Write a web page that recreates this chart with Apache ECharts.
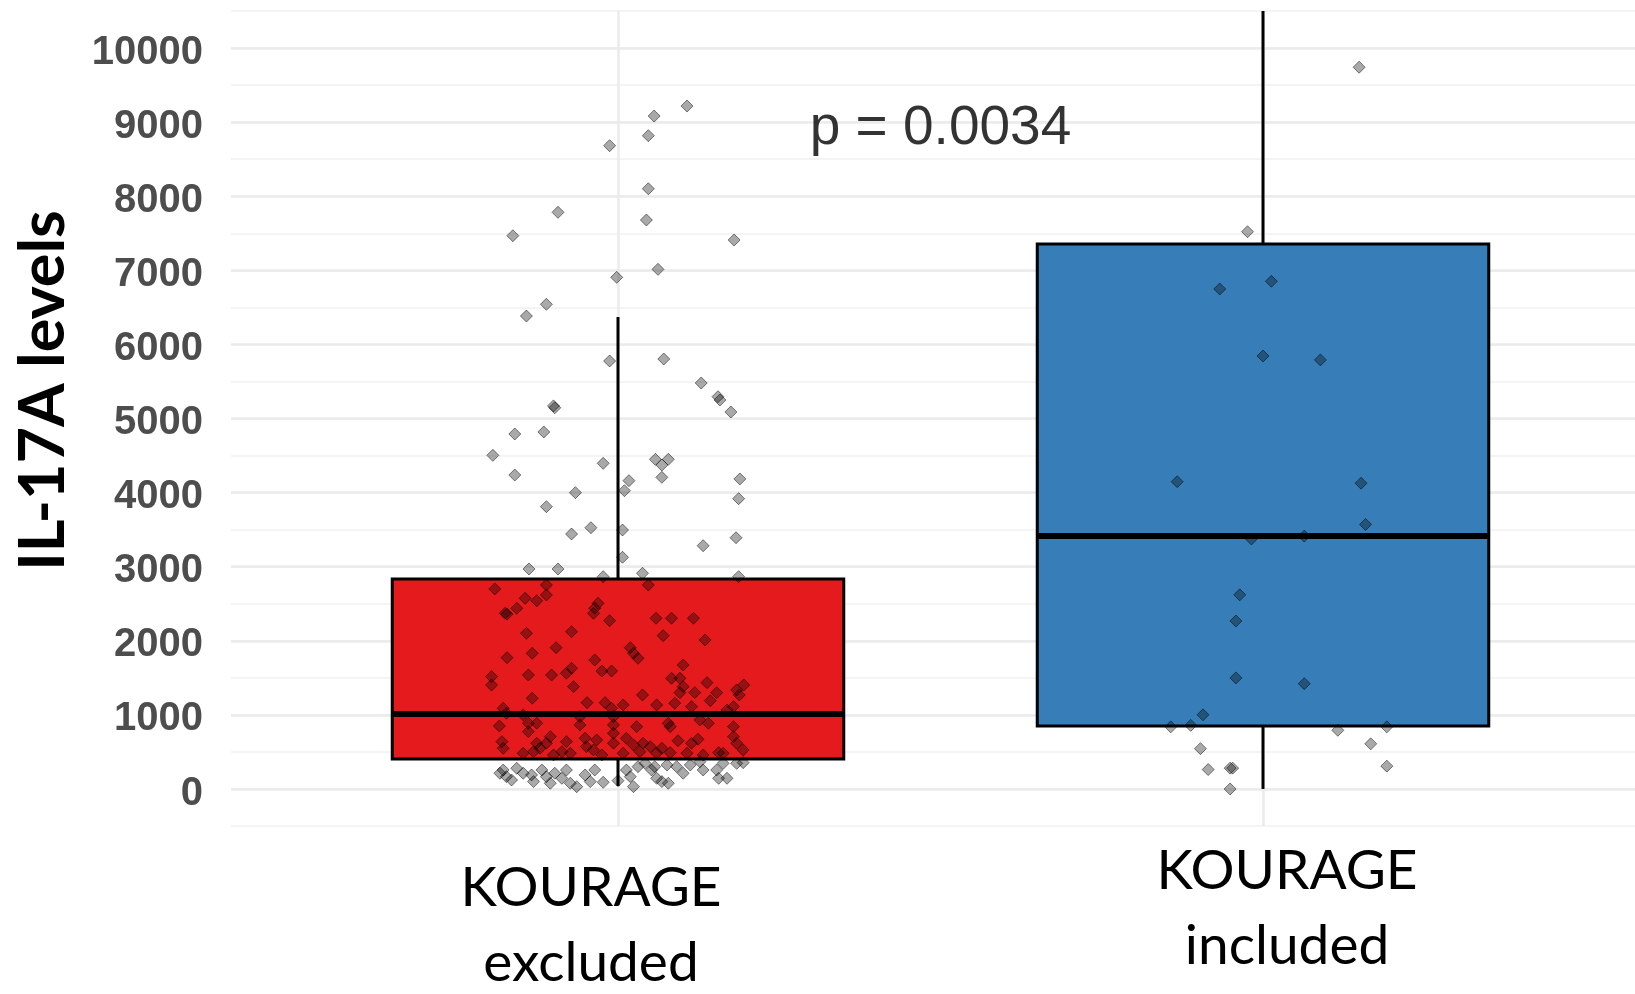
<!DOCTYPE html>
<html>
<head>
<meta charset="utf-8">
<script src="https://cdn.jsdelivr.net/npm/echarts@6/dist/echarts.min.js"></script>
<style>
html,body{margin:0;padding:0;background:#ffffff;}
#chart{width:1635px;height:994px;}
</style>
</head>
<body>
<div id="chart"></div>
<script>
// ---------------- data ----------------
const categories = ['KOURAGE excluded', 'KOURAGE included'];
const categoryPositions = [1, 2];
// box statistics per group
const boxLower  = [40, 0];
const boxQ1     = [405, 850];
const boxMedian = [1012, 3414];
const boxQ3     = [2834, 7355];
const boxUpper  = [6370, 10500];
const boxColors = ['#E41A1C', '#377EB8'];

const yTickValues = [0, 1000, 2000, 3000, 4000, 5000, 6000, 7000, 8000, 9000, 10000];
const yAxisTitle = 'IL-17A levels';
const pValueText = 'p = 0.0034';
const pValuePosition = [1.5, 8905];

// jittered observations [x (jittered group position), IL-17A level]
const excludedPoints = [
  [1.107,9217],[1.056,9082],[1.047,8817],[0.987,8682],[1.047,8101],[0.907,7783],[1.044,7679],[0.837,7467],
  [1.180,7409],[1.062,7013],[0.998,6905],[0.889,6541],[0.858,6383],[0.987,5776],[1.071,5803],[1.129,5479],
  [1.155,5294],[1.158,5250],[1.175,5088],[0.900,5170],[0.902,5145],[0.840,4791],[0.885,4818],[0.806,4503],
  [0.977,4395],[1.058,4449],[1.078,4449],[1.068,4372],[0.840,4237],[1.068,4206],[1.017,4161],[1.010,4026],
  [1.189,4184],[0.934,3999],[1.187,3918],[0.889,3810],[0.958,3526],[0.928,3441],[1.007,3495],[1.183,3391],
  [1.132,3283],[1.007,3127],[0.862,2969],[0.907,2969],[0.977,2865],[1.038,2911],[1.187,2865],
  [0.809,2699],[0.889,2753],[0.889,2618],[0.874,2541],[0.856,2573],[0.843,2439],[0.825,2371],[0.828,2360],
  [0.964,2439],[0.969,2506],[0.962,2371],[0.987,2271],[1.047,2753],[1.059,2304],[1.083,2304],[1.117,2304],
  [1.070,2069],[1.135,2011],[0.858,2101],[0.928,2123],[0.904,1907],[0.867,1831],[0.828,1772],[1.019,1907],
  [1.024,1831],[1.031,1764],[0.964,1741],[1.101,1673],[0.975,1592],[0.990,1592],[0.928,1629],[0.920,1561],
  [0.897,1538],[0.861,1538],[0.804,1516],[0.804,1403],[0.931,1381],[1.083,1494],[1.096,1494],[1.101,1381],
  [1.096,1300],[1.138,1435],[1.184,1336],[1.195,1403],[1.188,1269],[1.153,1300],[1.119,1300],[1.143,1192],
  [1.038,1269],[0.867,1224],[0.952,1165],[0.980,1165],[0.990,1089],[1.008,1134],[1.060,1134],[1.088,1157],
  [1.114,1111],[1.179,1111],[1.169,1066],[0.822,1089],[0.853,1000],[0.827,1022],[0.941,976],[0.993,976],
  [0.816,850],[0.861,887],[0.874,887],[0.861,773],[0.941,864],[0.993,864],[1.029,841],[1.078,887],
  [1.081,841],[1.140,887],[1.127,931],[1.179,841],[0.820,638],[0.822,549],[0.874,617],[0.879,549],
  [0.869,503],[0.895,706],[0.889,617],[0.920,638],[0.913,503],[0.949,684],[0.967,661],[0.951,571],
  [0.962,526],[0.993,752],[0.993,617],[1.013,684],[1.024,594],[1.039,617],[1.050,571],[1.068,549],
  [1.093,651],[1.114,617],[1.124,671],[1.179,706],[1.184,617],[1.194,526],[1.156,490],[0.853,482],
  [0.900,459],[0.926,482],[0.975,459],[1.008,482],[1.034,503],[1.060,482],[1.081,490],[1.107,482],
  [1.132,459],[1.163,482],
  [0.822,256],[0.817,212],[0.827,166],[0.835,121],[0.843,279],[0.853,212],[0.866,189],[0.869,99],
  [0.882,256],[0.889,166],[0.895,77],[0.902,212],[0.913,144],[0.920,256],[0.926,77],[0.936,31],
  [0.949,189],[0.957,99],[0.964,256],[0.977,90],[1.000,112],[1.013,256],[1.024,31],[1.019,166],
  [1.031,301],[1.042,346],[1.052,256],[1.060,144],[1.068,99],[1.078,77],[1.057,301],[1.076,324],
  [1.091,301],[1.101,212],[1.112,324],[1.127,368],[1.132,256],[1.153,256],[1.156,144],[1.169,144],
  [1.163,346],[1.184,346],[1.194,355]
];
const includedPoints = [
  [2.149,9741],[1.976,7521],[1.933,6748],[2.013,6852],[2.000,5843],[2.089,5791],[1.867,4147],[2.152,4127],
  [2.159,3570],[1.982,3374],[2.064,3413],[1.964,2620],[1.958,2267],[1.958,1499],[2.064,1421],[1.907,1001],
  [1.888,858],[1.857,838],[2.116,792],[2.192,838],[1.903,544],[2.167,609],[1.915,262],[1.949,281],
  [1.953,281],[2.192,308],[1.949,0]
];

// ---------------- layout constants ----------------
const X_MIN = 0.4;
const X_MAX = 0.4 + 1404 / 645;
const BOX_WIDTH = 0.7;

const boxData = categoryPositions.map((x, i) => [x, boxLower[i], boxQ1[i], boxMedian[i], boxQ3[i], boxUpper[i]]);

const chart = echarts.init(document.getElementById('chart'), null, {renderer: 'canvas'});

const pointStyle = {
  color: 'rgba(0,0,0,0.42)',
  borderColor: 'rgba(0,0,0,0.6)',
  borderWidth: 1
};

const option = {
  backgroundColor: '#ffffff',
  animation: false,
  grid: [
    {left: 231, right: 0, top: 11, bottom: 168, outerBoundsMode: 'none', containLabel: false},
    {left: 231, right: 0, top: 48, bottom: 205, outerBoundsMode: 'none', containLabel: false}
  ],
  xAxis: [
    {
      gridIndex: 0, type: 'value', min: X_MIN, max: X_MAX, position: 'bottom',
      axisLine: {show: false},
      axisTick: {show: false, customValues: categoryPositions},
      splitLine: {show: true, lineStyle: {color: '#ebebeb', width: 2.5}},
      axisLabel: {
        show: true, customValues: [categoryPositions[0]], margin: 25,
        formatter: v => v === categoryPositions[0] ? categories[0].split(' ').map(s => '{l|' + s + '}').join('\n') : '',
        rich: {l: {fontFamily: 'Lato', fontSize: 55, color: '#000', lineHeight: 75, padding: [0, 54, 0, 0]}}
      }
    },
    {
      gridIndex: 0, type: 'value', min: X_MIN, max: X_MAX, position: 'bottom',
      axisLine: {show: false},
      axisTick: {show: false, customValues: [categoryPositions[1]]},
      splitLine: {show: false},
      axisLabel: {
        show: true, customValues: [categoryPositions[1]], margin: 8,
        formatter: v => v === categoryPositions[1] ? categories[1].split(' ').map(s => '{r|' + s + '}').join('\n') : '',
        rich: {r: {fontFamily: 'Lato', fontSize: 55, color: '#000', lineHeight: 75, padding: [0, 0, 0, 48]}}
      }
    },
    {gridIndex: 1, type: 'value', min: X_MIN, max: X_MAX, show: false, splitLine: {show: false}}
  ],
  yAxis: [
    {
      gridIndex: 0, type: 'value', min: -500, max: 10500, interval: 500,
      axisLine: {show: false}, axisTick: {show: false}, axisLabel: {show: false},
      splitLine: {show: true, lineStyle: {color: '#f0f0f0', width: 1.5}}
    },
    {
      gridIndex: 1, type: 'value', min: yTickValues[0], max: yTickValues[yTickValues.length - 1], interval: 1000,
      axisLine: {show: false}, axisTick: {show: false},
      axisLabel: {show: true, margin: 28, fontFamily: 'Liberation Sans', fontWeight: 'bold', fontSize: 40,
                  color: '#4d4d4d', verticalAlign: 'top', lineHeight: 9, formatter: v => String(v)},
      splitLine: {show: true, lineStyle: {color: '#ebebeb', width: 2.5}},
      name: yAxisTitle, nameLocation: 'middle', nameGap: 156,
      nameTextStyle: {fontFamily: 'Lato', fontWeight: 'bold', fontSize: 63, color: '#000', padding: [0, 0, 0, 56]}
    }
  ],
  series: [
    {
      type: 'custom', name: 'box', xAxisIndex: 0, yAxisIndex: 0, z: 2,
      data: boxData,
      encode: {x: 0, y: [1, 2, 3, 4, 5]},
      renderItem: function (params, api) {
        const x = api.value(0);
        const lo = api.coord([x, api.value(1)]);
        const q1 = api.coord([x, api.value(2)]);
        const med = api.coord([x, api.value(3)]);
        const q3 = api.coord([x, api.value(4)]);
        const hi = api.coord([x, api.value(5)]);
        const w = api.size([BOX_WIDTH, 0])[0];
        const cx = q1[0];
        return {
          type: 'group',
          children: [
            {type: 'line', shape: {x1: cx, y1: hi[1], x2: cx, y2: q3[1]}, style: {stroke: '#000', lineWidth: 3}},
            {type: 'line', shape: {x1: cx, y1: q1[1], x2: cx, y2: lo[1]}, style: {stroke: '#000', lineWidth: 3}},
            {type: 'rect', shape: {x: cx - w / 2, y: q3[1], width: w, height: q1[1] - q3[1]},
             style: {fill: boxColors[params.dataIndex], stroke: '#000', lineWidth: 3}},
            {type: 'line', shape: {x1: cx - w / 2, y1: med[1], x2: cx + w / 2, y2: med[1]},
             style: {stroke: '#000', lineWidth: 6}}
          ]
        };
      }
    },
    {
      type: 'scatter', name: categories[0], xAxisIndex: 0, yAxisIndex: 0, z: 3,
      symbol: 'diamond', symbolSize: 12, data: excludedPoints, itemStyle: pointStyle
    },
    {
      type: 'scatter', name: categories[1], xAxisIndex: 0, yAxisIndex: 0, z: 3,
      symbol: 'diamond', symbolSize: 12, data: includedPoints, itemStyle: pointStyle
    },
    {
      type: 'scatter', name: 'p', xAxisIndex: 0, yAxisIndex: 0, z: 4,
      symbol: 'circle', symbolSize: 0, itemStyle: {color: 'rgba(0,0,0,0)'},
      data: [pValuePosition],
      label: {show: true, position: 'inside', formatter: pValueText,
              fontFamily: 'Liberation Sans', fontSize: 55, color: '#000'}
    }
  ]
};
chart.setOption(option);
</script>
</body>
</html>
